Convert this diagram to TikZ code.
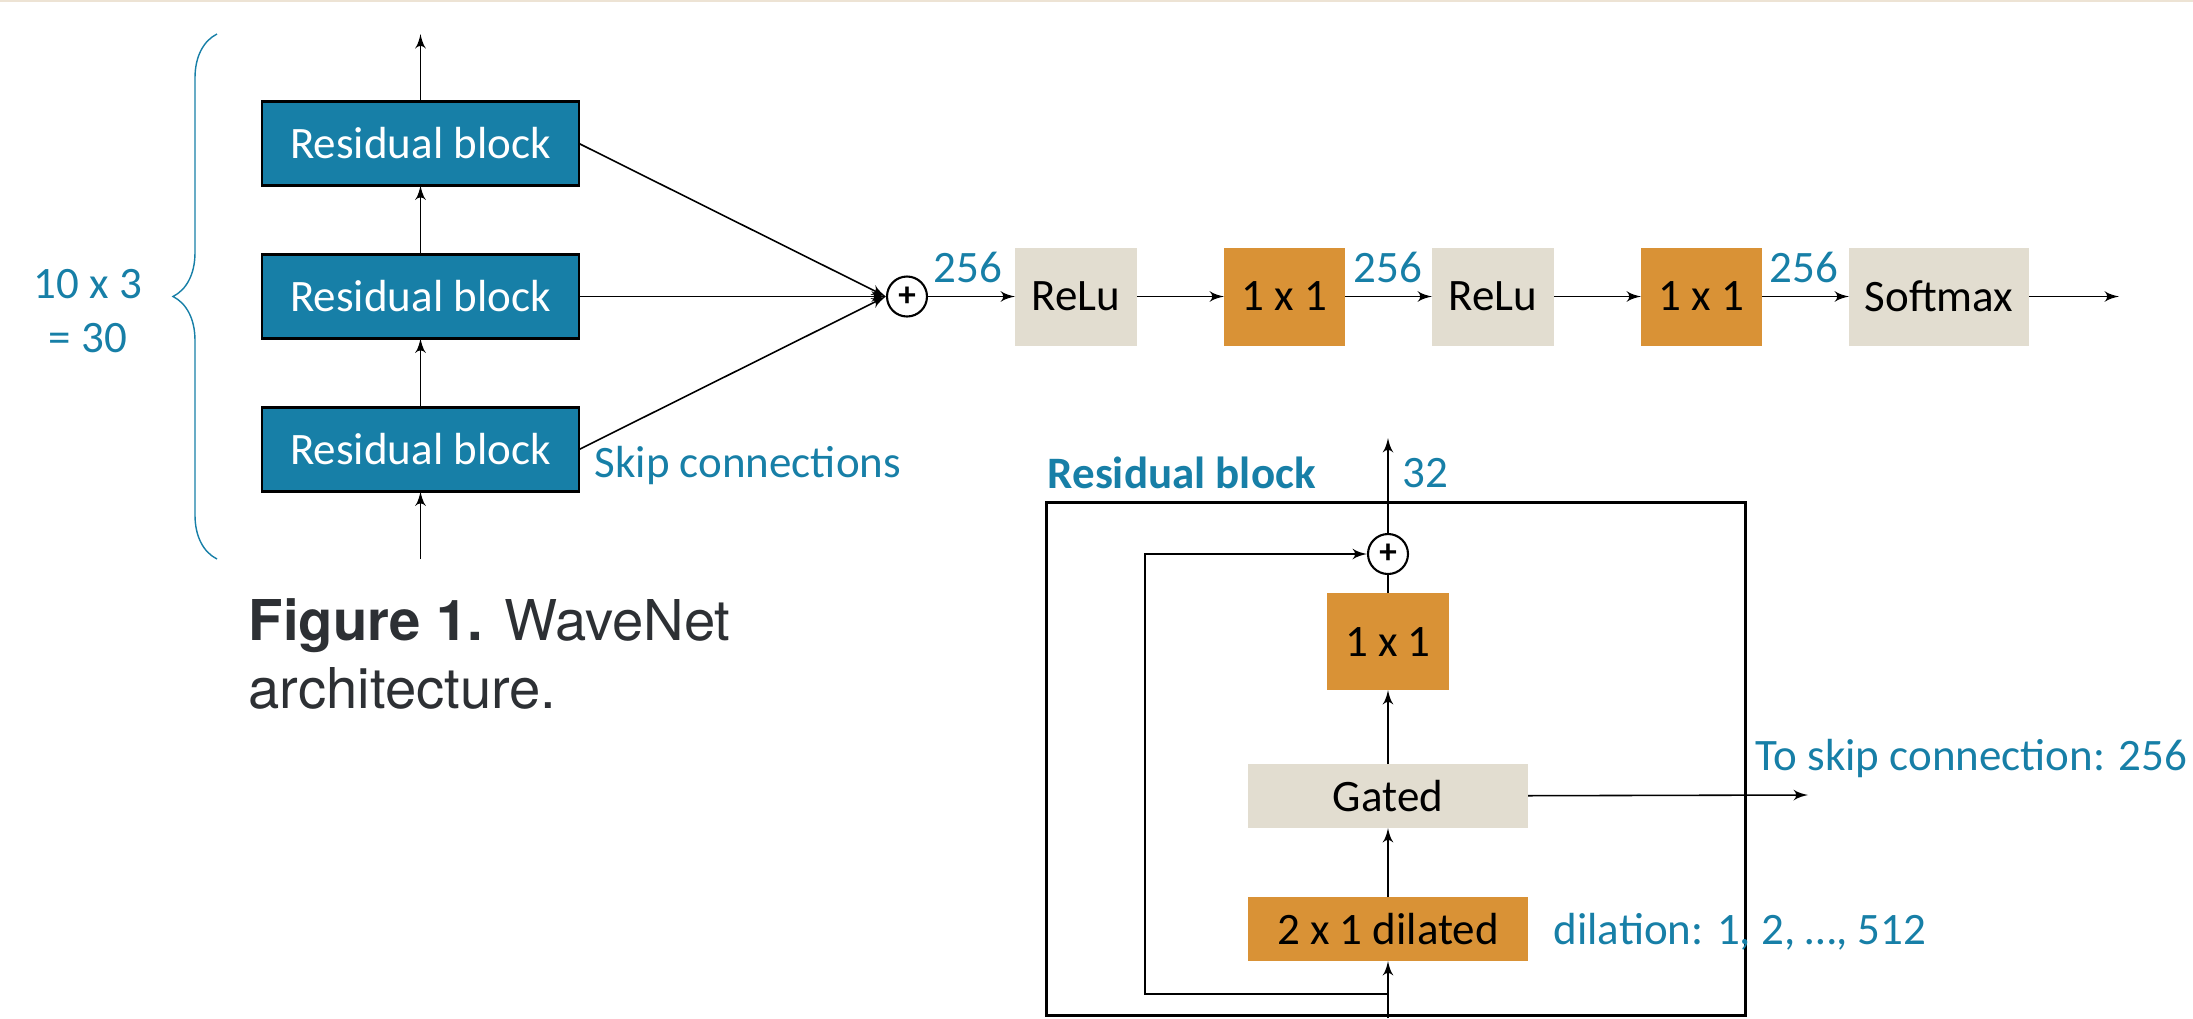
\documentclass[tikz,border=0pt]{standalone}
\usepackage{fontspec}
\setmainfont{Carlito}
\newfontfamily\capfont{TeX Gyre Heros}
\usetikzlibrary{arrows, positioning, decorations.pathreplacing}

\definecolor{wnblue}{RGB}{23,127,167}
\definecolor{wnorange}{RGB}{217,146,54}
\definecolor{wnbeige}{RGB}{226,221,208}
\definecolor{wnband}{RGB}{237,227,212}
\definecolor{capgray}{RGB}{45,48,52}

\begin{document}
\begin{tikzpicture}[node distance=0.87cm, auto,
            font=\fontsize{12.8}{15.4}\selectfont,
            % Styles
            resblock/.style={rectangle, draw=black, line width=0.85pt, fill=wnblue, text=white, minimum width=3.17cm, minimum height=0.84cm, outer sep=0pt},
            relubox/.style={rectangle, fill=wnbeige, minimum width=1.22cm, minimum height=0.98cm, outer sep=0pt},
            convbox/.style={rectangle, fill=wnorange, minimum width=1.21cm, minimum height=0.98cm, outer sep=0pt},
            sumnode/.style={circle, draw=black, line width=0.6pt, fill=white, minimum size=0.4cm, inner sep=0pt, font=\fontsize{10}{12}\selectfont\bfseries},
            num/.style={text=wnblue, inner sep=0pt},
            caption/.style={anchor=base west, inner sep=0pt, text=capgray, font=\capfont\fontsize{16}{19.4}\selectfont},
            line/.style={draw, -latex', line width=0.45pt}
        ]

        \useasboundingbox (0,0) rectangle (21.93,-10.18);
        \fill[wnband] (0,0) rectangle (21.93,-0.02);

        % Stack of residual blocks
        \node [resblock] (topres) at (4.205,-1.435) {Residual block};
        \node [resblock, below=0.69cm of topres] (midres) {Residual block};
        \node [resblock, below=0.69cm of midres] (botres) {Residual block};
        \coordinate (colin) at (4.205,-5.59);
        \coordinate (colout) at (4.205,-0.34);

        % Layer count
        \draw [wnblue, line width=0.4pt, decorate, decoration={brace, amplitude=0.44cm}] (2.17,-5.59) -- (2.17,-0.34);
        \node [num, align=center] (count) at (0.88,-3.11) {10 x 3\\= 30};

        % Output stack
        \node [sumnode] (sum) at (9.07,-2.965) {+};
        \node [relubox, right=of sum] (relu1) {ReLu};
        \node [convbox, right=of relu1] (conv1) {1 x 1};
        \node [relubox, right=of conv1] (relu2) {ReLu};
        \node [convbox, right=of relu2] (conv2) {1 x 1};
        \node [relubox, right=of conv2, minimum width=1.8cm] (softmax) {Softmax};
        \coordinate (netout) at (21.19,-2.965);

        \node [num, anchor=east] (dim1) at ([xshift=-1.2mm, yshift=2.9mm]relu1.west) {256};
        \node [num, anchor=east] (dim2) at ([xshift=-0.9mm, yshift=2.9mm]relu2.west) {256};
        \node [num, anchor=east] (dim3) at ([xshift=-1mm, yshift=2.9mm]softmax.west) {256};
        \node [num, anchor=west] (skiplabel) at (5.94,-4.65) {Skip connections};

        % Inside one residual block
        \node [draw, line width=0.85pt, minimum width=6.99cm, minimum height=5.13cm, inner sep=0pt] (frame) at (13.955,-7.585) {};
        \node [num, anchor=west] (blocktitle) at (10.47,-4.73) {\textbf{Residual block}};
        \node [sumnode] (sum2) at (13.88,-5.54) {+};
        \node [convbox, below=0.18cm of sum2, minimum width=1.22cm, minimum height=0.97cm] (conv3) {1 x 1};
        \node [relubox, below=0.74cm of conv3, minimum width=2.8cm, minimum height=0.64cm] (gated) {Gated};
        \node [convbox, below=0.69cm of gated, minimum width=2.8cm, minimum height=0.64cm] (dilated) {2 x 1 dilated};
        \coordinate (blockin) at (13.88,-10.18);
        \coordinate (tap) at (13.88,-9.94);
        \coordinate (blockout) at (13.88,-4.38);
        \coordinate (skipout) at (18.08,-7.95);

        \node [num, anchor=west] (outdim) at (14.02,-4.73) {32};
        \node [num, anchor=west] (skipdim) at (17.55,-7.58) {To skip connection: 256};
        \node [num, anchor=west] (dilation) at (15.53,-9.32) {dilation: 1, 2, …, 512};

        % Caption
        \node [caption] (cap1) at (2.48,-6.40) {\textbf{Figure 1.} WaveNet};
        \node [caption] (cap2) at (2.48,-7.08) {architecture.};

        % Edges
        \path [line] (colin) -- (botres);
        \path [line] (botres) -- (midres);
        \path [line] (midres) -- (topres);
        \path [line] (topres) -- (colout);
        \path [line] (topres.east) -- (sum.west);
        \path [line] (midres.east) -- (sum.west);
        \path [line] (botres.east) -- (sum.west);
        \path [line] (sum) -- (relu1);
        \path [line] (relu1) -- (conv1);
        \path [line] (conv1) -- (relu2);
        \path [line] (relu2) -- (conv2);
        \path [line] (conv2) -- (softmax);
        \path [line] (softmax) -- (netout);

        \path [line] (blockin) -- (dilated);
        \path [line] (dilated) -- (gated);
        \path [line] (gated) -- (conv3);
        \draw [line width=0.45pt] (conv3) -- (sum2);
        \path [line] (sum2) -- (blockout);
        \path [line] (tap) -- ++(-2.43,0) |- (sum2.west);
        \path [line] (gated) -- (skipout);

    \end{tikzpicture}
\end{document}
